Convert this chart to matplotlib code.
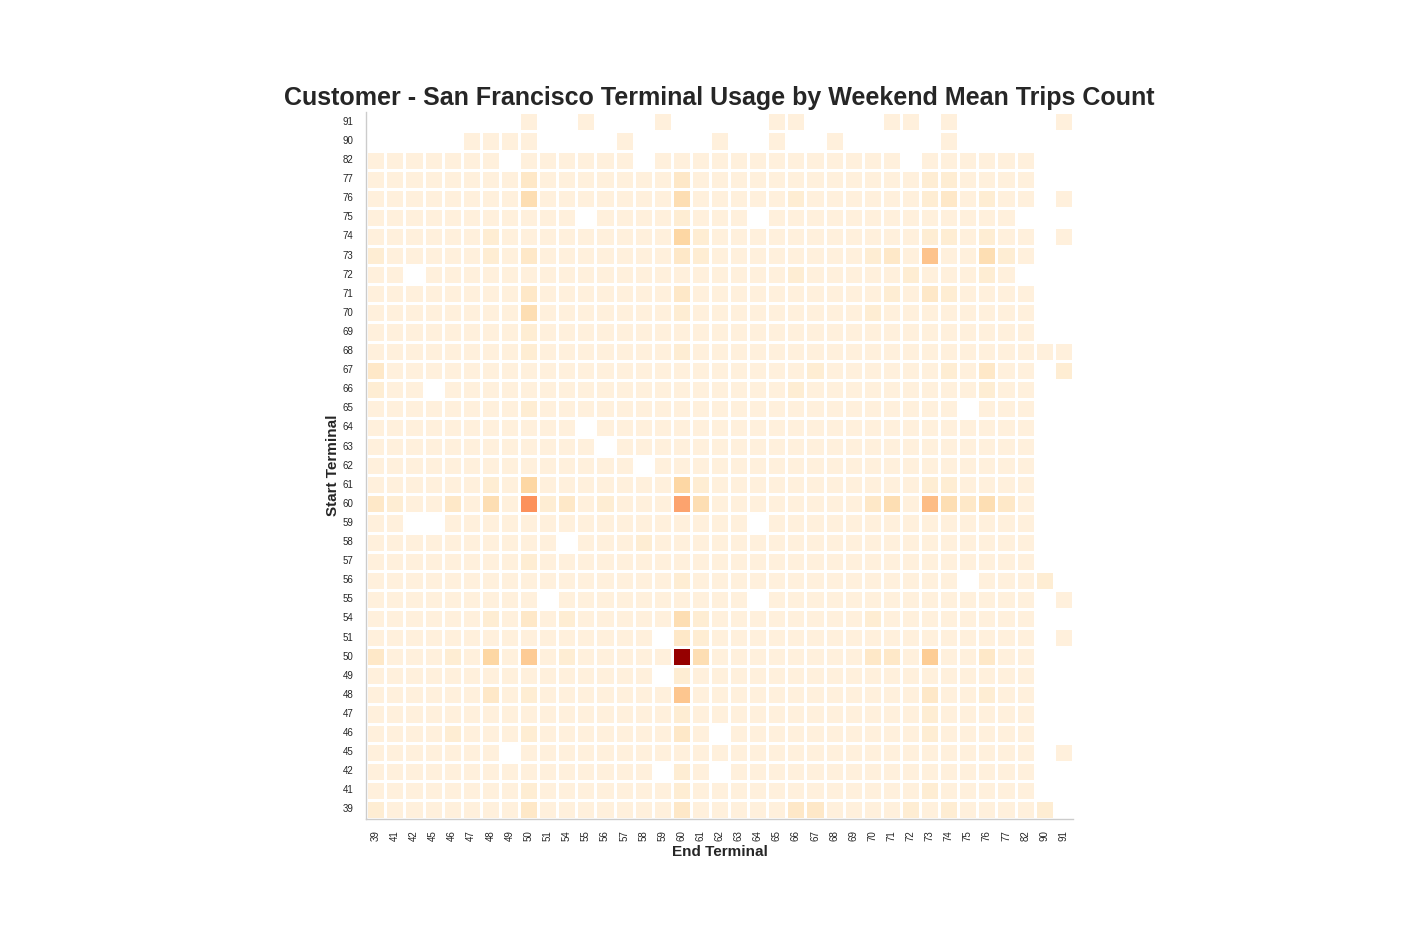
import numpy as np
import pandas as pd
import matplotlib
matplotlib.use("Agg")
import matplotlib.pyplot as plt
import seaborn as sns

n = np.nan

terminals = [39, 41, 42, 45, 46, 47, 48, 49, 50, 51, 54, 55, 56, 57, 58, 59, 60, 61, 62,
             63, 64, 65, 66, 67, 68, 69, 70, 71, 72, 73, 74, 75, 76, 77, 82, 90, 91]

# Weekend mean trips count, rows = start terminal, columns = end terminal
#         39  41  42  45  46  47  48  49 | 50  51  54  55  56  57  58  59 | 60  61  62  63  64  65  66  67 | 68  69  70  71  72  73  74  75 | 76  77  82  90  91
row_39 = [1.6, 1, 1, 1, 1, 1, 1, 1,   2.3, 1, 1, 1, 1, 1, 1, 1,   2.3, 1, 1, 1, 1, 1, 2.3, 2.3,   1, 1, 1, 1, 1.6, 1, 1.6, 1,   1, 1, 1, 1.6, n]
row_41 = [1, 1, 1, 1, 1, 1, 1, 1,     1.6, 1, 1, 1, 1, 1, 1, 1,   1.6, 1, 1, 1, 1, 1, 1, 1,       1, 1, 1, 1, 1, 1.6, 1, 1,     1, 1, 1, n, n]
row_42 = [1, 1, 1, 1, 1, 1, 1, 1,     1, 1, 1, 1, 1, 1, 1, n,     1.6, 1, n, 1, 1, 1, 1, 1,       1, 1, 1, 1, 1, 1, 1, 1,       1, 1, 1, n, n]
row_45 = [1, 1, 1, 1, 1, 1, 1, n,     1, 1, 1, 1, 1, 1, 1, 1,     1, 1, 1, 1, 1, 1, 1, 1,         1, 1, 1, 1, 1, 1, 1, 1,       1, 1, 1, n, 1]
row_46 = [1, 1, 1, 1, 1.6, 1, 1, 1,   1.6, 1, 1, 1, 1, 1, 1, 1,   2.3, 1, n, 1, 1, 1, 1, 1,       1, 1, 1, 1, 1, 1.6, 1, 1,     1, 1, 1, n, n]
row_47 = [1, 1, 1, 1, 1, 1, 1, 1,     1, 1, 1, 1, 1, 1, 1, 1,     1.6, 1, 1, 1, 1, 1, 1, 1,       1, 1, 1, 1, 1, 1.6, 1, 1,     1, 1, 1, n, n]
row_48 = [1, 1, 1, 1, 1, 1, 2.3, 1,   1.6, 1, 1, 1, 1, 1, 1, 1,   5.8, 1, 1, 1, 1, 1, 1, 1,       1, 1, 1, 1, 1, 2.3, 1, 1,     1.6, 1, 1, n, n]
row_49 = [1, 1, 1, 1, 1, 1, 1, 1,     1, 1, 1, 1, 1, 1, 1, n,     1.6, 1, 1, 1, 1, 1, 1, 1,       1, 1, 1, 1, 1, 1, 1, 1,       1, 1, 1, n, n]
row_50 = [2.3, 1, 1, 1, 1.6, 1, 4.2, 1, 5.3, 1, 1.6, 1, 1, 1, 1, 1, 17, 3.4, 1, 1, 1, 1, 1, 1,     1, 1, 2.3, 2.3, 1, 5.2, 1, 1, 2.3, 1, 1, n, n]
row_51 = [1, 1, 1, 1, 1, 1, 1, 1,     1, 1, 1, 1, 1, 1, 1, n,     2.3, 1.6, 1, 1, 1, 1, 1, 1,     1, 1, 1, 1, 1, 1, 1, 1,       1, 1, 1, n, 1]
row_54 = [1, 1, 1, 1, 1, 1, 1.6, 1,   2.3, 1, 1.6, 1, 1, 1, 1, 1, 3.4, 1.6, 1, 1, 1, 1, 1, 1,     1, 1, 1.6, 1, 1, 1, 1, 1,     1, 1, 1, n, n]
row_55 = [1, 1, 1, 1, 1, 1, 1, 1,     1, n, 1, 1, 1, 1, 1, 1,     1, 1, 1, 1, n, 1, 1, 1,         1, 1, 1, 1, 1, 1, 1, 1,       1, 1, 1, n, 1]
row_56 = [1, 1, 1, 1, 1, 1, 1, 1,     1, 1, 1, 1, 1, 1, 1, 1,     1.6, 1, 1, 1, 1, 1, 1, 1,       1, 1, 1, 1, 1, 1, 1, n,       1, 1, 1, 1.6, n]
row_57 = [1, 1, 1, 1, 1, 1, 1, 1,     1.6, 1, 1, 1, 1, 1, 1, 1,   1, 1, 1, 1, 1, 1, 1, 1,         1, 1, 1, 1, 1, 1, 1, 1,       1, 1, 1, n, n]
row_58 = [1, 1, 1, 1, 1, 1, 1, 1,     1, 1, n, 1, 1, 1, 1.6, 1,   1, 1, 1, 1, 1, 1, 1, 1,         1, 1, 1, 1, 1, 1, 1, 1,       1, 1, 1, n, n]
row_59 = [1, 1, n, n, 1, 1, 1, 1,     1, 1, 1, 1, 1, 1, 1, 1,     1, 1, 1, 1, n, 1, 1, 1,         1, 1, 1, 1, 1, 1, 1, 1,       1, 1, 1, n, n]
row_60 = [2.3, 1.6, 1, 1, 2.3, 1, 3.4, 1, 8.8, 1.6, 2.3, 1, 1.6, 1, 1, 1, 7.9, 3.4, 1, 1, 1, 1, 1, 1, 1, 1, 2.3, 3.4, 1, 6.6, 3.4, 2.3, 3.4, 2.3, 1, n, n]
row_61 = [1, 1, 1, 1, 1, 1, 1.6, 1,   4.2, 1, 1, 1, 1, 1, 1, 1,   4.2, 1.6, 1, 1, 1, 1, 1, 1,     1, 1, 1, 1, 1, 1.6, 1.6, 1,   1, 1, 1, n, n]
row_62 = [1, 1, 1, 1, 1, 1, 1, 1,     1, 1, 1, 1, 1, 1, n, 1,     1, 1, 1, 1, 1, 1, 1, 1,         1, 1, 1, 1, 1, 1, 1, 1,       1, 1, 1, n, n]
row_63 = [1, 1, 1, 1, 1, 1, 1, 1,     1, 1, 1, 1, n, 1, 1, 1,     1, 1, 1, 1, 1, 1, 1, 1,         1, 1, 1, 1, 1, 1, 1, 1,       1, 1, 1, n, n]
row_64 = [1, 1, 1, 1, 1, 1, 1, 1,     1, 1, 1, n, 1, 1, 1, 1,     1, 1, 1, 1, 1, 1, 1, 1,         1, 1, 1, 1, 1, 1, 1, 1,       1, 1, 1, n, n]
row_65 = [1, 1, 1, 1, 1, 1, 1, 1,     1.6, 1, 1, 1, 1, 1, 1, 1,   1, 1, 1, 1, 1, 1, 1, 1,         1, 1, 1, 1, 1, 1, 1, n,       1, 1, 1, n, n]
row_66 = [1.6, 1, 1, n, 1, 1, 1, 1,   1, 1, 1, 1, 1, 1, 1, 1,     1, 1, 1, 1, 1, 1, 1.6, 1,       1, 1, 1, 1, 1, 1, 1, 1,       1.6, 1, 1, n, n]
row_67 = [2.3, 1, 1, 1, 1, 1, 1, 1,   1, 1, 1, 1, 1, 1, 1, 1,     1, 1, 1, 1, 1, 1, 1, 1.6,       1, 1, 1, 1, 1, 1, 1.6, 1,     2.3, 1, 1, n, 1.6]
row_68 = [1, 1, 1, 1, 1, 1, 1, 1,     1.6, 1, 1, 1, 1, 1, 1, 1,   1.6, 1, 1, 1, 1, 1, 1, 1,       1, 1, 1, 1, 1, 1, 1, 1,       1, 1, 1, 1, 1]
row_69 = [1, 1, 1, 1, 1, 1, 1, 1,     1.6, 1, 1, 1, 1, 1, 1, 1,   1, 1, 1, 1, 1, 1, 1, 1,         1, 1, 1, 1, 1, 1, 1, 1,       1, 1, 1, n, n]
row_70 = [1, 1, 1, 1, 1, 1, 1, 1,     3.4, 1, 1, 1, 1, 1, 1, 1,   1.6, 1, 1, 1, 1, 1, 1, 1,       1, 1, 1.6, 1, 1, 1, 1, 1,     1, 1, 1, n, n]
row_71 = [1, 1, 1, 1, 1, 1, 1, 1,     2.3, 1, 1, 1, 1, 1, 1, 1,   2.3, 1, 1, 1, 1, 1, 1, 1,       1, 1, 1, 1.6, 1, 2.3, 1.6, 1, 1, 1, 1, n, n]
row_72 = [1, 1, n, 1, 1, 1, 1, 1,     1, 1, 1, 1, 1, 1, 1, 1,     1, 1, 1, 1, 1, 1, 1.6, 1,       1, 1, 1, 1, 1.6, 1, 1, 1,     1.6, 1, n, n, n]
row_73 = [1.6, 1, 1, 1, 1, 1, 1.6, 1, 2.3, 1, 1, 1, 1, 1, 1, 1,   2.3, 1.6, 1, 1, 1, 1, 1, 1,     1, 1, 1.6, 2.3, 1, 6.1, 1, 1, 3.4, 1.6, 1, n, n]
row_74 = [1, 1, 1, 1, 1, 1, 1.6, 1,   1, 1, 1, 1, 1, 1, 1, 1,     4.2, 1.6, 1, 1, 1, 1, 1, 1,     1, 1, 1, 1, 1, 1.6, 1.6, 1,   1.6, 1, 1, n, 1]
row_75 = [1, 1, 1, 1, 1, 1, 1, 1,     1, 1, 1, n, 1, 1, 1, 1,     1.6, 1, 1, 1, n, 1, 1, 1,       1, 1, 1, 1, 1, 1, 1, 1,       1, 1, n, n, n]
row_76 = [1, 1, 1, 1, 1, 1, 1, 1,     3.4, 1, 1, 1, 1, 1, 1, 1,   3.4, 1, 1, 1, 1, 1, 1.6, 1,     1, 1, 1, 1, 1, 1.6, 2.3, 1,   1.6, 1, 1, n, 1]
row_77 = [1, 1, 1, 1, 1, 1, 1, 1,     2.3, 1, 1, 1, 1, 1, 1, 1,   2.3, 1, 1, 1, 1, 1, 1, 1,       1, 1, 1, 1, 1, 1.6, 1.6, 1,   1, 1, 1, n, n]
row_82 = [1, 1, 1, 1, 1, 1, 1, n,     1, 1, 1, 1, 1, 1, n, 1,     1, 1, 1, 1, 1, 1, 1, 1,         1, 1, 1, 1, n, 1, 1, 1,       1, 1, 1, n, n]
row_90 = [n, n, n, n, n, 1, 1, 1,     1, n, n, n, n, 1, n, n,     n, n, 1, n, n, 1, n, n,         1, n, n, n, n, n, 1, n,       n, n, n, n, n]
row_91 = [n, n, n, n, n, n, n, n,     1, n, n, 1, n, n, n, 1,     n, n, n, n, n, 1, 1, n,         n, n, n, 1, 1, n, 1, n,       n, n, n, n, 1]

rows = [row_39, row_41, row_42, row_45, row_46, row_47, row_48, row_49, row_50, row_51,
        row_54, row_55, row_56, row_57, row_58, row_59, row_60, row_61, row_62, row_63,
        row_64, row_65, row_66, row_67, row_68, row_69, row_70, row_71, row_72, row_73,
        row_74, row_75, row_76, row_77, row_82, row_90, row_91]

df = pd.DataFrame(rows, index=terminals, columns=terminals)

sns.set_style("white")
plt.rcParams["font.family"] = ["Liberation Sans", "DejaVu Sans"]

fig, ax = plt.subplots(figsize=(14.04, 9.36), dpi=100)
fig.subplots_adjust(bottom=0.125, top=0.88)
sns.heatmap(df, cmap="OrRd", vmin=0, vmax=18, linewidths=1, linecolor="white",
            square=True, cbar=False, ax=ax)
ax.invert_yaxis()

ax.set_title("Customer - San Francisco Terminal Usage by Weekend Mean Trips Count",
             fontsize=18, fontweight="bold", color="#262626", pad=5)
ax.set_xlabel("End Terminal", fontsize=11, fontweight="bold", color="#262626", labelpad=3)
ax.set_ylabel("Start Terminal", fontsize=11, fontweight="bold", color="#262626", labelpad=2)
ax.tick_params(axis="both", labelsize=7, length=0, colors="#262626")
ax.tick_params(axis="x", pad=8)
ax.tick_params(axis="y", pad=9)
plt.setp(ax.get_xticklabels(), rotation=90)
plt.setp(ax.get_yticklabels(), rotation=0)

for s in ["left", "bottom"]:
    ax.spines[s].set_visible(True)
    ax.spines[s].set_color("#cccccc")
    ax.spines[s].set_linewidth(1)
for s in ["top", "right"]:
    ax.spines[s].set_visible(False)

fig.savefig("out.png", dpi=100)
